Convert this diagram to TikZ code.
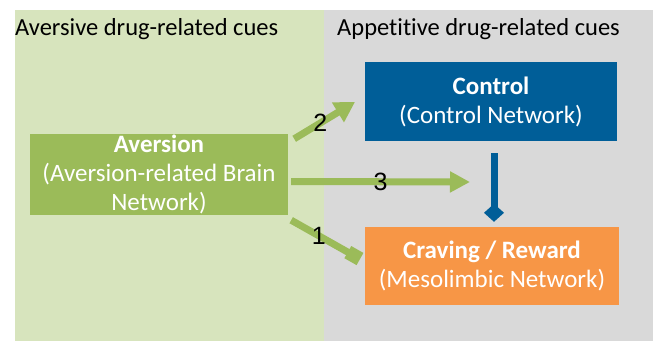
\documentclass[tikz,border=0pt]{standalone}
\usepackage{fontspec}
\setmainfont{Carlito}[Ligatures=CommonOff]
\newfontfamily\numfont{Liberation Sans}
\usetikzlibrary{arrows.meta, positioning}

\definecolor{paneGreen}{RGB}{215,228,189}
\definecolor{paneGray}{RGB}{217,217,217}
\definecolor{aversGreen}{RGB}{155,187,89}
\definecolor{ctrlBlue}{RGB}{0,94,152}
\definecolor{craveOrange}{RGB}{247,150,70}

\begin{document}
\begin{tikzpicture}[x=1pt, y=-1pt, font=\fontsize{24.5}{28}\selectfont,
  box/.style={rectangle, inner sep=0pt, text=white, align=center,
    font=\fontsize{25}{29}\selectfont},
  avlink/.style={draw=aversGreen, line width=7pt},
  num/.style={font=\numfont\fontsize{25}{27}\selectfont, inner sep=0pt}]
  \useasboundingbox (0,0) rectangle (654,341);
  \fill[paneGreen] (15,10) rectangle (324,341);
  \fill[paneGray] (324,10) rectangle (653,341);
  \node[anchor=west, inner sep=0pt] (avcues) at (15,29) {Aversive drug-related cues};
  \node[anchor=west, inner sep=0pt] (apcues) at (337,29) {Appetitive drug-related cues};

  \node[box, fill=aversGreen, minimum width=258pt, minimum height=81pt] (aver) at (159,174.5)
    {\textbf{Aversion}\\(Aversion-related Brain\\Network)};
  \node[box, fill=ctrlBlue, minimum width=252pt, minimum height=79pt] (ctrl) at (491,101.5)
    {\textbf{Control}\\(Control Network)};
  \node[box, fill=craveOrange, minimum width=254pt, minimum height=78pt] (crave) at (492,266)
    {\textbf{Craving / Reward}\\(Mesolimbic Network)};

  \coordinate (t2) at (355,102);
  \coordinate (t3) at (470,182);
  \coordinate (t1) at (360,259);

  \draw[avlink, -{Triangle[length=20pt, width=22pt]}]
    ([shift={(6,5)}]aver.north east) -- (t2) node[num, pos=0.43] {2};
  \draw[avlink, -{Triangle[length=20pt, width=20pt]}]
    ([shift={(3,7)}]aver.east) -- (t3) node[num, pos=0.5] {3};
  \draw[avlink, -{Square[length=14pt, width=14pt]}]
    ([shift={(3,5)}]aver.south east) -- (t1) node[num, pos=0.4] {1};
  \draw[draw=ctrlBlue, line width=7pt, shorten <=12pt, shorten >=5pt,
    -{Diamond[length=18pt, width=20pt]}]
    ([xshift=3pt]ctrl.south) -- ([xshift=3pt]ctrl.south |- crave.north);
\end{tikzpicture}
\end{document}
